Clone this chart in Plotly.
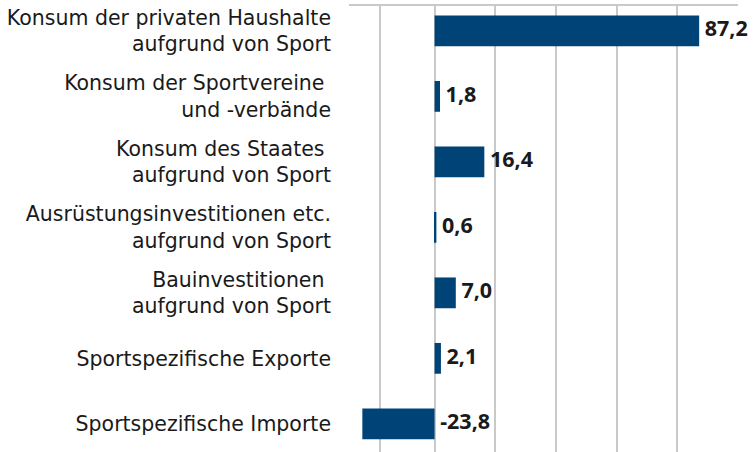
import plotly.graph_objects as go

categories = [
    "Konsum der privaten Haushalte<br>aufgrund von Sport",
    "Konsum der Sportvereine\u00a0<br>und -verbände",
    "Konsum des Staates\u00a0<br>aufgrund von Sport",
    "Ausrüstungsinvestitionen etc.<br>aufgrund von Sport",
    "Bauinvestitionen\u00a0<br>aufgrund von Sport",
    "Sportspezifische Exporte",
    "Sportspezifische Importe",
]
values = [87.2, 1.8, 16.4, 0.6, 7.0, 2.1, -23.8]
value_labels = ["87,2", "1,8", "16,4", "0,6", "7,0", "2,1", "-23,8"]
grid_values = [-18, 0, 20, 40, 60, 80, 100]

BAR = "#004377"
TXT = "#1a1a1a"
GRID = "#c9c9c9"
FONT = "DejaVu Sans"
VFONT = "Noto Sans"

fig = go.Figure()
fig.add_trace(go.Bar(
    y=categories, x=values, orientation="h",
    marker=dict(color=BAR, line=dict(width=0)),
    hoverinfo="skip",
))
fig.add_trace(go.Scatter(
    y=categories, x=[max(v, 0) for v in values],
    mode="text", text=["\u00a0" + s for s in value_labels],
    textposition="middle right",
    textfont=dict(family=VFONT, size=21.5, color=TXT, weight="bold"),
    cliponaxis=False, hoverinfo="skip",
))

fig.update_layout(
    width=753, height=452,
    margin=dict(l=349, r=15, t=6, b=0),
    paper_bgcolor="white", plot_bgcolor="white",
    showlegend=False, bargap=0.53,
    font=dict(family=FONT, size=20.5, color=TXT),
)
fig.update_xaxes(
    range=[-28.2, 100], side="top",
    tickvals=grid_values, showticklabels=False, ticks="",
    showgrid=True, gridcolor=GRID, gridwidth=1.5,
    zeroline=False, showline=True, linecolor=GRID, linewidth=2,
)
fig.update_yaxes(
    range=[6.43, -0.38], type="category",
    ticks="", ticklabelstandoff=17, showgrid=False, zeroline=False,
    showline=False,
    tickfont=dict(family=FONT, size=20.5, color=TXT),
)

fig.write_html(
    "out.html",
    config={"displayModeBar": False},
    post_script="document.body.style.margin='0';document.body.style.overflow='hidden';",
)
